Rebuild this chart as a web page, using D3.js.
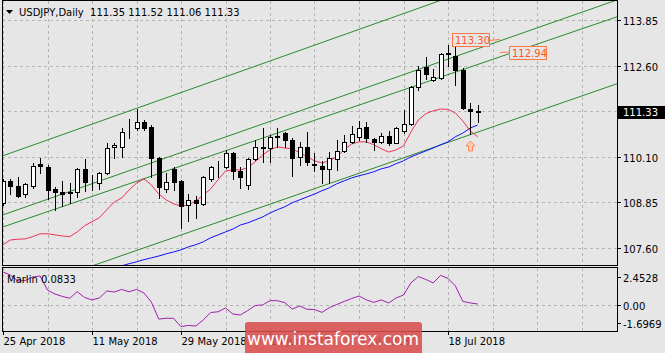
<!DOCTYPE html>
<html>
<head>
<meta charset="utf-8">
<script src="https://cdn.jsdelivr.net/npm/d3@7"></script>
<style>
  body { margin: 0; background: #e6e6e6; }
  svg text { font-family: "DejaVu Sans", sans-serif; }
</style>
</head>
<body>
<div id="chart"></div>
<script>
// ---- data ----
const symbolTitle = "USDJPY,Daily";
const lastQuote = [111.35, 111.52, 111.06, 111.33];

// x tick labels every 12 bars
const dateLabels = ["25 Apr 2018", "11 May 2018", "29 May 2018", "14 Jun 2018", "2 Jul 2018", "18 Jul 2018"];
const dateLabelBars = [0, 12, 24, 36, 48, 60];

const priceTicks = [113.85, 112.6, 111.35, 110.1, 108.85, 107.6];

const opens = [108.84, 109.44, 109.30, 109.08, 109.30, 109.91, 109.82, 109.22, 109.14, 109.11,
  109.14, 109.77, 109.41, 109.38, 109.66, 110.37, 110.37, 110.78, 110.89, 111.06,
  110.92, 110.07, 109.22, 109.77, 109.44, 108.78, 108.92, 108.81, 109.49, 109.82,
  109.82, 110.21, 109.71, 109.33, 110.04, 110.37, 110.34, 110.67, 110.75, 110.56,
  110.10, 110.37, 109.88, 109.85, 109.77, 110.04, 110.26, 110.51, 110.65, 110.92,
  110.59, 110.51, 110.67, 110.48, 110.81, 111.00, 112.01, 112.56, 112.21, 112.26,
  112.92, 112.86, 112.48, 111.41, 111.35];
const highs = [109.49, 109.49, 109.55, 109.38, 109.93, 110.07, 109.88, 109.27, 109.44, 109.38,
  109.80, 110.04, 109.60, 109.69, 110.48, 110.48, 110.89, 111.14, 111.41, 111.11,
  110.97, 110.10, 109.66, 109.82, 109.47, 109.08, 109.03, 109.58, 109.85, 109.99,
  110.29, 110.23, 109.82, 110.07, 110.56, 110.89, 110.70, 110.89, 110.78, 110.62,
  110.51, 110.78, 110.21, 109.99, 110.23, 110.56, 110.70, 110.95, 111.08, 111.06,
  110.62, 110.75, 110.81, 110.92, 111.38, 112.04, 112.59, 112.84, 112.51, 112.95,
  113.17, 113.30, 112.53, 111.58, 111.52];
const lows = [108.78, 109.08, 109.00, 109.00, 109.25, 109.66, 108.95, 108.65, 108.75, 108.84,
  109.00, 109.17, 109.19, 109.22, 109.63, 110.07, 110.10, 110.62, 110.84, 110.84,
  109.55, 108.97, 109.14, 109.19, 108.15, 108.34, 108.43, 108.78, 109.44, 109.55,
  109.80, 109.49, 109.25, 109.22, 110.01, 109.96, 109.96, 110.37, 110.37, 109.58,
  109.88, 109.88, 109.71, 109.38, 109.38, 109.74, 110.23, 110.48, 110.56, 110.51,
  110.29, 110.48, 110.43, 110.48, 110.75, 110.97, 111.93, 112.23, 112.18, 112.23,
  112.59, 112.07, 111.41, 110.73, 111.06];
const closes = [109.44, 109.30, 109.03, 109.36, 109.85, 109.85, 109.19, 109.14, 109.08, 109.14,
  109.77, 109.41, 109.40, 109.66, 110.34, 110.43, 110.78, 110.77, 111.06, 110.89,
  110.07, 109.27, 109.41, 109.41, 108.75, 108.92, 108.84, 109.55, 109.82, 109.81,
  110.21, 109.71, 109.55, 110.04, 110.37, 110.33, 110.65, 110.64, 110.56, 110.07,
  110.37, 109.96, 109.89, 109.77, 110.07, 110.26, 110.51, 110.73, 110.89, 110.62,
  110.51, 110.67, 110.48, 110.89, 111.00, 112.01, 112.48, 112.37, 112.29, 112.92,
  112.95, 112.48, 111.44, 111.36, 111.33];

// fast moving average (red), one value per bar from bar 0
const fastMA = [107.69, 107.82, 107.84, 107.85, 107.91, 107.99, 107.99, 107.96, 107.93, 107.91,
  108.04, 108.21, 108.32, 108.43, 108.65, 108.86, 108.97, 109.19, 109.38, 109.49,
  109.33, 109.08, 108.92, 108.81, 108.75, 108.78, 108.89, 109.05, 109.22, 109.47,
  109.71, 109.74, 109.74, 109.80, 109.96, 110.15, 110.29, 110.37, 110.34, 110.32,
  110.21, 110.10, 109.99, 109.93, 109.99, 110.10, 110.29, 110.45, 110.51, 110.51,
  110.43, 110.32, 110.23, 110.29, 110.40, 110.78, 111.11, 111.28, 111.36, 111.41,
  111.40, 111.30, 111.08, 110.81, 110.65];

// slow moving average (blue), starts at bar 16
const slowMAStart = 16;
const slowMA = [107.11, 107.17, 107.22, 107.28, 107.33, 107.38, 107.44, 107.49, 107.55, 107.63,
  107.69, 107.77, 107.88, 107.96, 108.04, 108.12, 108.23, 108.29, 108.37, 108.45,
  108.56, 108.65, 108.73, 108.84, 108.92, 109.00, 109.08, 109.17, 109.25, 109.36,
  109.44, 109.52, 109.58, 109.63, 109.69, 109.77, 109.82, 109.91, 109.99, 110.10,
  110.18, 110.26, 110.34, 110.43, 110.51, 110.65, 110.75, 110.89, 110.97];

// Marlin oscillator (sub window)
const marlin = [2.19, 1.99, 1.60, 1.63, 1.86, 1.93, 1.00, 0.74, 0.58, 0.46,
  0.89, 0.51, 0.35, 0.48, 0.94, 0.87, 1.04, 0.89, 1.04, 0.81,
  0.21, -0.91, -0.86, -0.86, -1.41, -1.33, -1.37, -0.97, -0.48, -0.43,
  -0.18, -0.58, -0.64, -0.35, -0.02, 0.02, 0.30, 0.30, 0.17, -0.25,
  -0.05, -0.27, -0.28, -0.47, -0.16, 0.05, 0.25, 0.44, 0.61, 0.35,
  0.19, 0.35, 0.15, 0.48, 0.67, 1.47, 1.89, 1.70, 1.47, 1.97,
  1.77, 1.27, 0.25, 0.15, 0.08];
const marlinLast = "0.0833";
const marlinMax = 2.4528;
const marlinMin = -1.6969;

// trend channel lines: two anchors [bar, price] each
const channelLines = [
  [[-0.4, 110.10], [53.5, 113.99]],
  [[-0.4, 108.48], [81.8, 114.33]],
  [[-0.4, 108.15], [53.5, 111.90]],
  [[14.0, 107.25], [82.75, 112.10]],
];

// price labels placed on the chart (bar / price of the box corner)
const priceLabels = [
  { text: "113.30", bar: 60.5, price: 113.49, leader: "right" },
  { text: "112.94", bar: 68.2, price: 113.14, leader: "left" },
];
const arrowBar = 63;
const arrowPrice = 110.73;

// ---- layout ----
const W = 665, H = 353;
const left = 2, right = 617;
const mainTop = 0, mainBottom = 265;
const subTop = 267, subBottom = 331;

const svg = d3.select("#chart").append("svg")
  .attr("width", W).attr("height", H)
  .style("display", "block");

svg.append("rect").attr("width", W).attr("height", H).attr("fill", "#e6e6e6");

// scales
const x = d3.scaleLinear().domain([0, 60]).range([3, 448]);
const y = d3.scaleLinear().domain([107.6, 113.85]).range([248, 20]);
const ySub = d3.scaleLinear().domain([marlinMin, marlinMax]).range([subBottom, subTop + 1]);

const defs = svg.append("defs");
defs.append("clipPath").attr("id", "clip-main")
  .append("rect").attr("x", left + 1).attr("y", mainTop).attr("width", right - left - 1).attr("height", mainBottom - mainTop);
defs.append("clipPath").attr("id", "clip-sub")
  .append("rect").attr("x", left + 1).attr("y", subTop + 1).attr("width", right - left - 1).attr("height", subBottom - subTop - 1);

const gridColor = "#b4b4b4";
const bars = d3.range(-6, 90, 6).filter((b) => x(b) > left && x(b) < right);

// vertical grid, both panels
const grid = svg.append("g").attr("stroke", gridColor).attr("stroke-dasharray", "3,3").attr("shape-rendering", "crispEdges");
grid.selectAll(".vg").data(bars).enter().append("line")
  .attr("x1", (d) => Math.round(x(d)) + 0.5).attr("x2", (d) => Math.round(x(d)) + 0.5)
  .attr("y1", mainTop + 1).attr("y2", mainBottom);
grid.selectAll(".vg2").data(bars).enter().append("line")
  .attr("x1", (d) => Math.round(x(d)) + 0.5).attr("x2", (d) => Math.round(x(d)) + 0.5)
  .attr("y1", subTop + 1).attr("y2", subBottom);
// horizontal grid
grid.selectAll(".hg").data(priceTicks).enter().append("line")
  .attr("x1", left).attr("x2", right)
  .attr("y1", (d) => Math.round(y(d)) + 0.5).attr("y2", (d) => Math.round(y(d)) + 0.5);
grid.append("line")
  .attr("x1", left).attr("x2", right)
  .attr("y1", Math.round(ySub(0)) + 0.5).attr("y2", Math.round(ySub(0)) + 0.5);

// main panel content
const main = svg.append("g").attr("clip-path", "url(#clip-main)");

// channel lines, extended over the whole panel
channelLines.forEach((ln) => {
  const [[b1, p1], [b2, p2]] = ln;
  const slope = (p2 - p1) / (b2 - b1);
  const bA = -2, bB = 90;
  main.append("line")
    .attr("x1", x(bA)).attr("y1", y(p1 + slope * (bA - b1)))
    .attr("x2", x(bB)).attr("y2", y(p1 + slope * (bB - b1)))
    .attr("stroke", "#2a8a2a").attr("stroke-width", 1);
});

// moving averages
const lineGen = d3.line().x((d) => x(d[0])).y((d) => y(d[1]));
main.append("path")
  .datum(slowMA.map((v, i) => [i + slowMAStart, v]))
  .attr("d", lineGen).attr("fill", "none").attr("stroke", "#1010ff").attr("stroke-width", 1);
main.append("path")
  .datum(fastMA.map((v, i) => [i, v]))
  .attr("d", lineGen).attr("fill", "none").attr("stroke", "#ee3355").attr("stroke-width", 1);

// candles
const candles = opens.map((o, i) => ({ i, o, h: highs[i], l: lows[i], c: closes[i] }));
const cg = main.append("g").attr("shape-rendering", "crispEdges");
cg.selectAll(".wick").data(candles).enter().append("line")
  .attr("x1", (d) => Math.round(x(d.i)) + 0.5).attr("x2", (d) => Math.round(x(d.i)) + 0.5)
  .attr("y1", (d) => Math.round(y(d.h))).attr("y2", (d) => Math.round(y(d.l)) + 1)
  .attr("stroke", "#000");
cg.selectAll(".body").data(candles).enter().append("rect")
  .attr("x", (d) => Math.round(x(d.i)) - 1.5)
  .attr("width", 4)
  .attr("y", (d) => Math.round(y(Math.max(d.o, d.c))) + 0.5)
  .attr("height", (d) => Math.max(0, Math.round(y(Math.min(d.o, d.c))) - Math.round(y(Math.max(d.o, d.c)))))
  .attr("fill", (d) => (d.c >= d.o ? "#fff" : "#000"))
  .attr("stroke", "#000");

// price labels with leader line
priceLabels.forEach((lb) => {
  const lx = Math.round(x(lb.bar)), ly = Math.round(y(lb.price));
  const g = svg.append("g");
  g.append("rect").attr("x", lx + 0.5).attr("y", ly + 0.5).attr("width", 37).attr("height", 13)
    .attr("fill", "#e6e6e6").attr("stroke", "#ff7744");
  if (lb.leader === "right") {
    g.append("line").attr("x1", lx + 37.5).attr("y1", ly + 7.5).attr("x2", lx + 48).attr("y2", ly + 6.5)
      .attr("stroke", "#ff7744");
  } else {
    g.append("line").attr("x1", lx - 9).attr("y1", ly + 6.5).attr("x2", lx + 0.5).attr("y2", ly + 6)
      .attr("stroke", "#ff7744");
  }
  g.append("text").attr("x", lx + 3).attr("y", ly + 11).attr("fill", "#ff5522")
    .attr("font-size", 10).text(lb.text);
});

// up arrow at the low
const ax = Math.round(x(arrowBar)) + 0.5, ay = Math.round(y(arrowPrice)) + 7;
svg.append("path")
  .attr("d", `M${ax},${ay} l4.5,5 h-2.5 v5 h-4 v-5 h-2.5 z`)
  .attr("fill", "#f8d0b8").attr("stroke", "#ff8855");

// Marlin sub window
const sub = svg.append("g").attr("clip-path", "url(#clip-sub)");
sub.append("path")
  .datum(marlin.map((v, i) => [i, v]))
  .attr("d", d3.line().x((d) => x(d[0])).y((d) => ySub(d[1])))
  .attr("fill", "none").attr("stroke", "#a020b0").attr("stroke-width", 1);

svg.append("text").attr("x", 7).attr("y", subTop + 16).attr("font-size", 10).attr("fill", "#000")
  .text(`Marlin ${marlinLast}`);

// panel frames
const frame = svg.append("g").attr("fill", "none").attr("stroke", "#000").attr("shape-rendering", "crispEdges");
frame.append("rect").attr("x", left + 0.5).attr("y", mainTop + 0.5).attr("width", right - left).attr("height", mainBottom - mainTop);
frame.append("rect").attr("x", left + 0.5).attr("y", subTop + 0.5).attr("width", right - left).attr("height", subBottom - subTop);

// right price axis
const axisG = svg.append("g").attr("font-size", 10).attr("fill", "#000");
priceTicks.forEach((p) => {
  const py = Math.round(y(p)) + 0.5;
  axisG.append("line").attr("x1", right).attr("x2", right + 4).attr("y1", py).attr("y2", py).attr("stroke", "#000");
  if (Math.abs(p - lastQuote[3]) > 0.1) {
    axisG.append("text").attr("x", right + 6).attr("y", py + 4).text(p.toFixed(2));
  }
});
// current price tag
const cy = Math.round(y(lastQuote[3]));
axisG.append("rect").attr("x", right).attr("y", cy - 6).attr("width", W - right).attr("height", 13).attr("fill", "#000");
axisG.append("text").attr("x", right + 6).attr("y", cy + 4).attr("fill", "#fff").text(lastQuote[3].toFixed(2));

// sub window axis
[[marlinMax, 9], [0, 0], [marlinMin, -8]].forEach(([v, off]) => {
  const py = Math.round(ySub(v) + off) + 0.5;
  axisG.append("line").attr("x1", right).attr("x2", right + 4).attr("y1", py).attr("y2", py).attr("stroke", "#000");
  axisG.append("text").attr("x", right + 6).attr("y", py + 4).text(v === 0 ? "0.00" : v.toFixed(4));
});

// bottom time axis
dateLabelBars.forEach((b, k) => {
  const bx = Math.round(x(b)) + 0.5;
  axisG.append("line").attr("x1", bx).attr("x2", bx).attr("y1", subBottom).attr("y2", subBottom + 4).attr("stroke", "#000");
  axisG.append("text").attr("x", bx).attr("y", subBottom + 14).text(dateLabels[k]);
});

// title
svg.append("path").attr("d", "M6,10 h7 l-3.5,4 z").attr("fill", "#000");
svg.append("text").attr("x", 19).attr("y", 16).attr("font-size", 10).attr("fill", "#000")
  .attr("xml:space", "preserve")
  .text(`${symbolTitle}  ${lastQuote.map((v) => v.toFixed(2)).join(" ")}`);

// watermark
const wm = svg.append("g");
wm.append("rect").attr("x", 245).attr("y", 322).attr("width", 177).attr("height", 36).attr("rx", 3)
  .attr("fill", "#d94f4f").attr("opacity", 0.88);
wm.append("text").attr("x", 333).attr("y", 345).attr("text-anchor", "middle")
  .attr("font-family", "Liberation Sans, Arial, sans-serif").attr("font-size", 17).attr("fill", "#fff")
  .text("www.instaforex.com");
</script>
</body>
</html>
